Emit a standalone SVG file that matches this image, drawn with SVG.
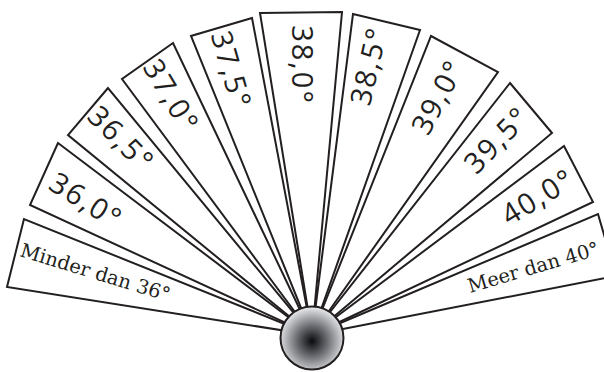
<svg xmlns="http://www.w3.org/2000/svg" width="604" height="372" viewBox="0 0 604 372">
  <defs>
    <radialGradient id="ball" cx="50%" cy="55%" r="55%">
      <stop offset="0" stop-color="#0a0a0c"/>
      <stop offset="0.45" stop-color="#6c6e73"/>
      <stop offset="1" stop-color="#eceef0"/>
    </radialGradient>
    <style>
      .w { fill: #ffffff; stroke: #231f20; stroke-width: 2; stroke-linejoin: miter; }
      .num { font-family: "Open Sans", "DejaVu Sans", sans-serif; font-weight: 400; font-size: 29px; fill: #231f20; text-anchor: middle; letter-spacing: 2px; }
      .ser { font-family: "DejaVu Serif", "Liberation Serif", serif; font-size: 19.5px; fill: #231f20; }
    </style>
  </defs>
  <rect width="604" height="372" fill="#ffffff"/>
  <g id="connectors"></g>
  <g id="w1"><polygon class="w" points="24,219 7,287 312,335"/>
    <text class="ser" transform="translate(19,256) rotate(17)">Minder dan 36°</text></g>
  <g id="w2"><polygon class="w" points="58,143 30,205 312,335"/>
    <text class="num" transform="translate(86,201) rotate(32)" x="0" y="10">36,0°</text></g>
  <g id="w3"><polygon class="w" points="108,88 68,135 312,335"/>
    <text class="num" transform="translate(121,139) rotate(45)" x="0" y="10">36,5°</text></g>
  <g id="w4"><polygon class="w" points="173,43 122,79 312,335"/>
    <text class="num" transform="translate(171,96) rotate(59)" x="0" y="10">37,0°</text></g>
  <g id="w5"><polygon class="w" points="252,18 191,36 312,335"/>
    <text class="num" transform="translate(231,70) rotate(74)" x="0" y="10">37,5°</text></g>
  <g id="w6"><polygon class="w" points="260,13 342,12 312,335"/>
    <text class="num" transform="translate(302,65) rotate(90)" x="0" y="10">38,0°</text></g>
  <g id="w7"><polygon class="w" points="353,14 420,30 312,335"/>
    <text class="num" transform="translate(369,66) rotate(-77)" x="0" y="10">38,5°</text></g>
  <g id="w8"><polygon class="w" points="431,36 498,72 312,335"/>
    <text class="num" transform="translate(438,97) rotate(-62)" x="0" y="10">39,0°</text></g>
  <g id="w9"><polygon class="w" points="510,83 552,133 312,335"/>
    <text class="num" transform="translate(497,140) rotate(-46)" x="0" y="10">39,5°</text></g>
  <g id="w10"><polygon class="w" points="564,146 593,202 312,335"/>
    <text class="num" transform="translate(538,197) rotate(-31.5)" x="0" y="10">40,0°</text></g>
  <g id="w11"><polygon class="w" points="598,214 616,276 312,335"/>
    <text class="ser" transform="translate(470,293) rotate(-16.5)">Meer dan 40°</text></g>
  <g id="bulb"><circle cx="312" cy="338" r="31.5" fill="url(#ball)" stroke="#231f20" stroke-width="2"/></g>
</svg>
